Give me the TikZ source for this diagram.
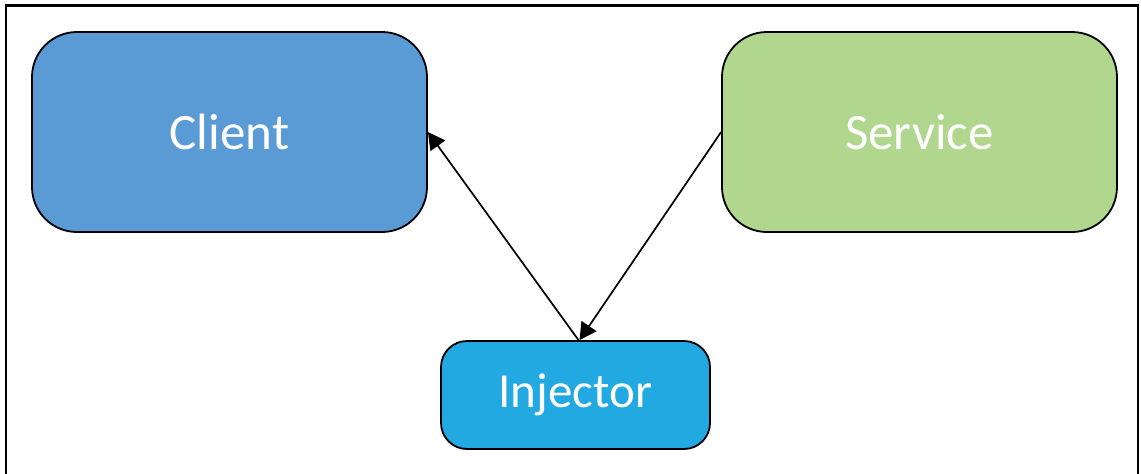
\documentclass[tikz,border=0pt]{standalone}
\usepackage{fontspec}
\setmainfont{Carlito}
\usetikzlibrary{arrows.meta}
\definecolor{clientblue}{HTML}{5B9BD5}
\definecolor{servicegreen}{HTML}{B1D68E}
\definecolor{injectorblue}{HTML}{22A9E1}
\tikzset{
  box/.style={draw=black, line width=1.8pt, text=white, inner sep=0pt},
  bigbox/.style={box, rounded corners=45pt, minimum width=395pt, minimum height=200pt, font=\fontsize{51}{60}\selectfont},
  smallbox/.style={box, rounded corners=26pt, minimum width=269pt, minimum height=108pt, font=\fontsize{49}{58}\selectfont},
  conn/.style={line width=1.7pt, -{Triangle[length=17pt,width=18pt]}},
  frame/.style={line width=2.4pt}
}
\begin{document}
\begin{tikzpicture}[x=1pt,y=-1pt]
\useasboundingbox (0,0) rectangle (1141,474);
\coordinate (fbl) at (6,474);
\coordinate (ftl) at (6,5.5);
\coordinate (ftr) at (1138,5.5);
\coordinate (fbr) at (1138,474);
\draw[frame] (fbl) -- (ftl) -- (ftr) -- (fbr);
\node[bigbox, fill=clientblue] (client) at (229.5,132) {Client};
\node[bigbox, fill=servicegreen] (service) at (919.5,132) {Service};
\node[smallbox, fill=injectorblue] (injector) at (575.5,395) {Injector};
\draw[conn] ([xshift=3pt]injector.north) -- (client.east);
\draw[conn] (service.west) -- ([xshift=4pt]injector.north);
\end{tikzpicture}
\end{document}
